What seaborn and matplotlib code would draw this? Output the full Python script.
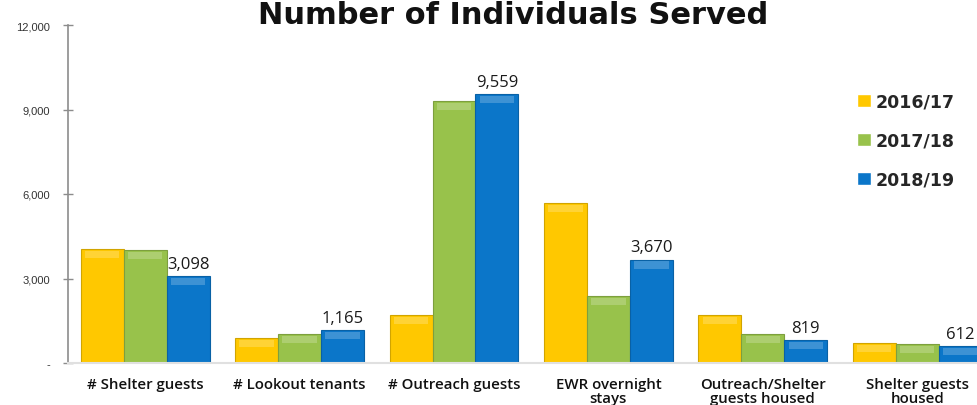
import pandas as pd
import numpy as np
import matplotlib
matplotlib.use("Agg")
import matplotlib.pyplot as plt
import matplotlib.colors as mcolors
from matplotlib.patches import Rectangle
from matplotlib.ticker import FuncFormatter
import seaborn as sns

# data
categories = ["# Shelter guests", "# Lookout tenants", "# Outreach guests",
              "EWR overnight\nstays", "Outreach/Shelter\nguests housed", "Shelter guests\nhoused"]
years = ["2016/17", "2017/18", "2018/19"]
v_2016 = [4050, 890, 1700, 5680, 1700, 710]
v_2017 = [4010, 1030, 9300, 2380, 1030, 675]
v_2018 = [3098, 1165, 9559, 3670, 819, 612]
colors = ["#FFC800", "#98C24B", "#0B76C9"]

df = pd.DataFrame({
    "category": categories * 3,
    "year": [years[0]] * 6 + [years[1]] * 6 + [years[2]] * 6,
    "value": v_2016 + v_2017 + v_2018,
})

sns.set_style("white")
plt.rcParams["font.family"] = ["Open Sans", "DejaVu Sans"]

fig = plt.figure(figsize=(9.78, 4.06), dpi=100)
ax = fig.add_axes([68 / 978, 1 - 364 / 406, 6 * 154.4 / 978, 338 / 406])

sns.barplot(data=df, x="category", y="value", hue="year", palette=colors,
            width=0.835, saturation=1, ax=ax, legend=True)

# bevel look: darker edge + soft lighter top strip
dh = 9 / (338 / 12000)
for container, c in zip(ax.containers, colors):
    dark = np.array(mcolors.to_rgb(c)) * 0.82
    light = np.array(mcolors.to_rgb(c)) * 0.4 + 0.6
    for p in container:
        p.set_edgecolor(dark)
        p.set_linewidth(0.8)
        x, w, h = p.get_x(), p.get_width(), p.get_height()
        ax.add_patch(Rectangle((x + w * 0.1, h - dh), w * 0.8, dh * 0.8,
                               facecolor=light, edgecolor="none", alpha=0.35, zorder=3))

# value labels on 2018/19 only
ax.bar_label(ax.containers[2], labels=[f"{v:,}" for v in v_2018], padding=3,
             fontsize=12, color="#1a1a1a")

ax.set_xlim(-0.5, 5.5)
ax.set_ylim(0, 12000)
ax.set_yticks([0, 3000, 6000, 9000, 12000])
ax.yaxis.set_major_formatter(FuncFormatter(lambda v, p: "-" if v == 0 else f"{int(v):,}"))
ax.tick_params(axis="y", direction="inout", length=7, width=1, color="#8c8c8c",
               labelsize=8, labelcolor="#333333", pad=9.5, left=True)
ax.tick_params(axis="x", length=0, labelsize=10.8, labelcolor="#111111", pad=10)
for lab in ax.get_yticklabels():
    lab.set_family(["Liberation Sans", "DejaVu Sans"])
for lab in ax.get_xticklabels():
    lab.set_fontweight(600)
    lab.set_linespacing(1.05)
ax.set_xlabel("")
ax.set_ylabel("")

for s in ["top", "right"]:
    ax.spines[s].set_visible(False)
ax.spines["left"].set_color("#8c8c8c")
ax.spines["left"].set_linewidth(1.2)
ax.spines["bottom"].set_color("#e0e0e0")
ax.spines["bottom"].set_linewidth(1.5)

handles, labels = ax.get_legend_handles_labels()
ax.legend(handles, labels, loc="upper left", bbox_to_anchor=(841 / 978, 1 - 78 / 406),
          bbox_transform=fig.transFigure, frameon=False,
          prop={"family": "DejaVu Sans", "weight": "bold", "size": 12.5},
          handlelength=0.8, handleheight=0.8, handletextpad=0.3, labelspacing=1.2)

fig.text(0.525, 1 - 24 / 406, "Number of Individuals Served", ha="center", va="baseline",
         fontsize=22, fontweight="bold", family="DejaVu Sans", color="#111111")

fig.savefig("out.png", dpi=100)
